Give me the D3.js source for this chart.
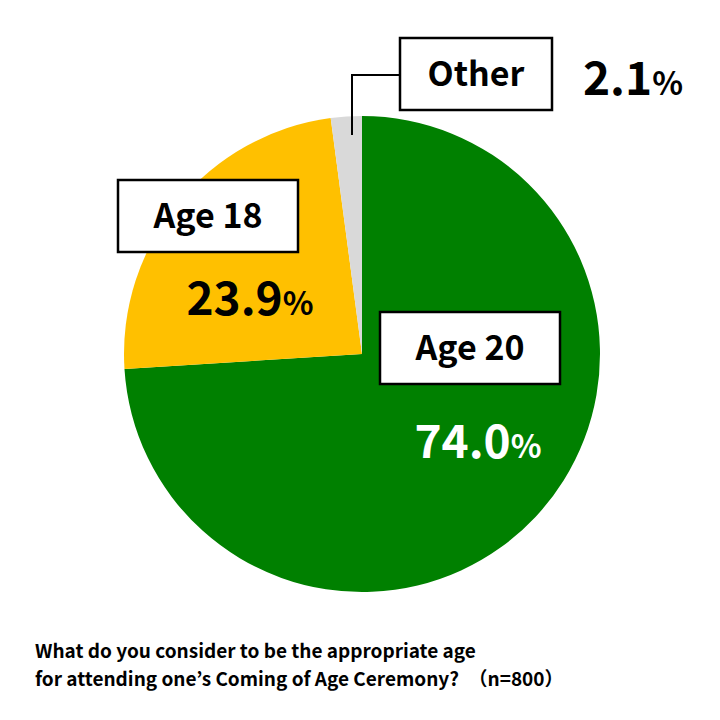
<!DOCTYPE html>
<html><head><meta charset="utf-8">
<script src="https://cdn.jsdelivr.net/npm/d3@7"></script>
<style>body{margin:0;background:#fff}</style></head>
<body><svg id="c" width="720" height="720"></svg>
<script>
const categories=["Age 20","Age 18","Other"];
const values=[74.0,23.9,2.1];
const colors=["#008000","#FFC000","#D9D9D9"];
const captionLines=["What do you consider to be the appropriate age","for attending one’s Coming of Age Ceremony?　（n=800）"];
const F='"Noto Sans CJK JP","Noto Sans",sans-serif';
const svg=d3.select("#c");
const cx=362,cy=354,r=238;
const pie=d3.pie().sort(null).value(d=>d)(values);
const arc=d3.arc().innerRadius(0).outerRadius(r);
const g=svg.append("g").attr("transform",`translate(${cx},${cy})`);
g.selectAll("path").data(pie).join("path").attr("d",arc).attr("fill",(d,i)=>colors[i]);
// leader
svg.append("polyline").attr("points","352,135 352,75 400,75").attr("fill","none").attr("stroke","#000").attr("stroke-width",2);
const boxes=[{x:380,y:312,w:180,h:72,t:categories[0],pct:values[0],px:478,py:458,col:"#fff"},
{x:118,y:180,w:180,h:72,t:categories[1],pct:values[1],px:250,py:315,col:"#000"},
{x:400,y:38,w:152,h:72,t:categories[2],pct:values[2],px:633,py:95,col:"#000"}];
boxes.forEach(b=>{
 svg.append("rect").attr("x",b.x).attr("y",b.y).attr("width",b.w).attr("height",b.h).attr("fill","#fff").attr("stroke","#000").attr("stroke-width",2.5);
 svg.append("text").attr("x",b.x+b.w/2).attr("y",b.y+b.h/2+12).attr("text-anchor","middle").attr("font-family",F).attr("font-weight","bold").attr("font-size",34).text(b.t);
 const t=svg.append("text").attr("x",b.px).attr("y",b.py).attr("text-anchor","middle").attr("font-family",F).attr("font-weight","bold").attr("fill",b.col);
 t.append("tspan").attr("font-size",46).text(b.pct.toFixed(1));
 t.append("tspan").attr("font-size",32).text("%");
});
captionLines.forEach((l,i)=>svg.append("text").attr("x",35).attr("y",658+i*28).attr("font-family",F).attr("font-weight","bold").attr("font-size",19).text(l));
</script></body></html>
